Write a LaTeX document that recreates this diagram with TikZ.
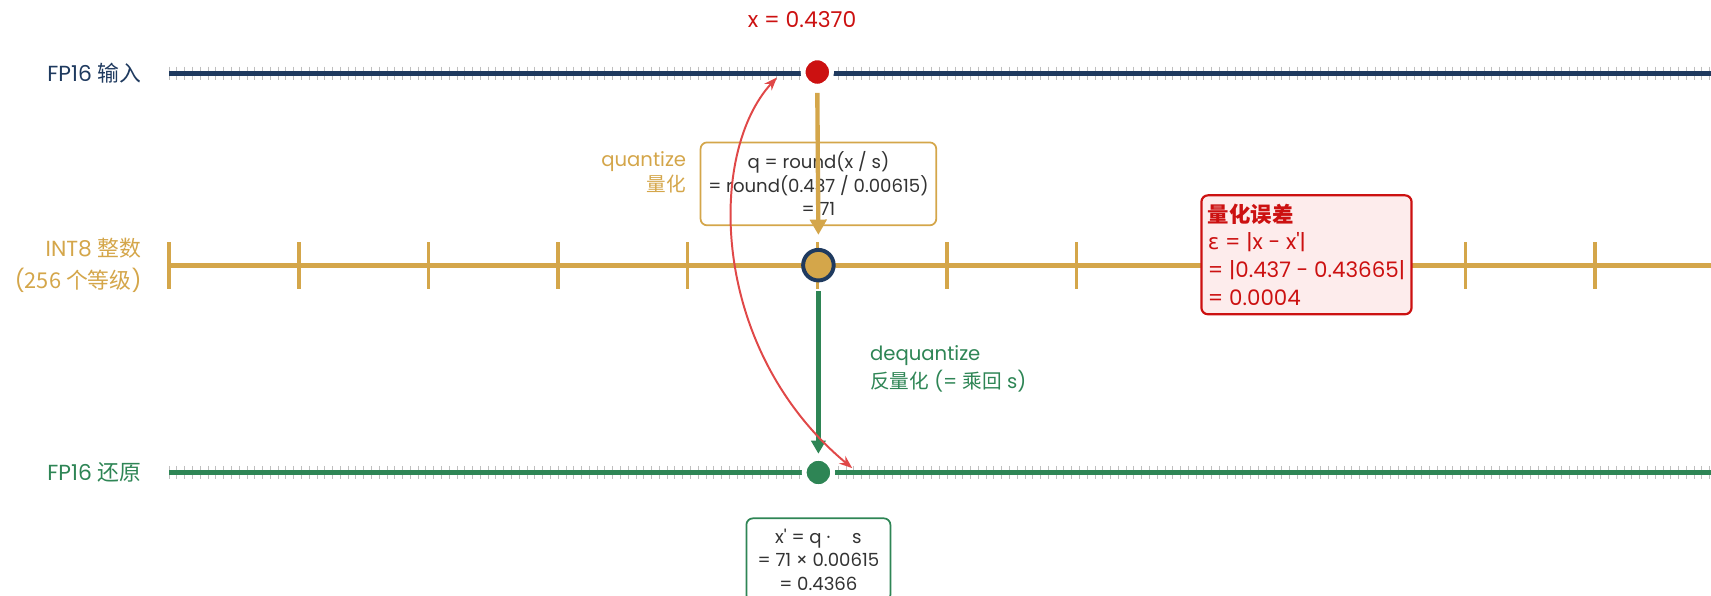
\documentclass[tikz,border=0pt]{standalone}
\usepackage{fontspec}
\setmainfont{Poppins}
\newfontfamily\cjk{Noto Sans CJK SC}
\newfontfamily\greek{DejaVu Sans}
\usetikzlibrary{positioning,arrows.meta}

\definecolor{navy}{HTML}{1F3A5F}
\definecolor{gold}{HTML}{D4A64A}
\definecolor{leaf}{HTML}{2E8555}
\definecolor{crimson}{HTML}{CC1111}
\definecolor{errred}{HTML}{E04848}
\definecolor{ink}{HTML}{333333}
\definecolor{errfill}{HTML}{FDECEC}

\tikzset{
    axislabel/.style={font=\fontsize{10}{14.5}\selectfont, inner sep=0pt, align=right, anchor=east},
    formbox/.style={draw, rounded corners=3pt, line width=0.8pt, fill=white, text=ink,
        font=\fontsize{8.3}{10.8}\selectfont, align=center, inner sep=0pt},
    finetick/.style={draw=black!25, line width=0.4pt},
    bigtick/.style={draw=gold, line width=1.6pt},
    valdot/.style={circle, inner sep=0pt, minimum size=13pt, draw=white, line width=2.2pt}
}

\begin{document}
\begin{tikzpicture}[x=0.5pt, y=-0.5pt]
    \useasboundingbox (0,0) rectangle (1568,546);
    \clip (0,0) rectangle (1568,546);

    % end points of the three axes
    \coordinate (inL) at (155,67);
    \coordinate (inR) at (1580,67);
    \coordinate (qL) at (155,243);
    \coordinate (qR) at (1580,243);
    \coordinate (outL) at (155,433);
    \coordinate (outR) at (1580,433);

    % fine FP16 ticks
    \foreach \i in {0,...,199} {
        \draw[finetick] (155+\i*7.13,61) -- (155+\i*7.13,73);
        \draw[finetick] (155+\i*7.13,427) -- (155+\i*7.13,439);
    }
    \draw[navy, line width=2.3pt] (inL) -- (inR);
    \draw[leaf, line width=2.3pt] (outL) -- (outR);

    % INT8 axis
    \foreach \k in {0,...,11} {
        \draw[bigtick] (155+\k*118.8,222) -- (155+\k*118.8,265);
    }
    \draw[gold, line width=2.2pt] (qL) -- (qR);

    % axis names
    \node[axislabel, text=navy] (nin) at (130,67) {FP16 {\cjk 输入}};
    \node[axislabel, text=gold] (nq) at (130,243) {INT8 {\cjk 整数}\\({\cjk 256 个等级})};
    \node[axislabel, text=leaf] (nout) at (130,433) {FP16 {\cjk 还原}};

    % the value on each axis
    \node[valdot, fill=crimson] (xin) at (749,66) {};
    \node[circle, inner sep=0pt, minimum size=14pt, draw=navy, line width=1.8pt, fill=gold] (xq) at (750,243) {};
    \node[valdot, fill=leaf] (xout) at (750,433) {};

    \node[text=crimson, font=\fontsize{10}{12}\selectfont, inner sep=0pt] (xval) at (735,18) {x = 0.4370};

    % formula boxes
    \node[formbox, draw=gold, minimum width=108pt, minimum height=38pt] (qbox) at (750,168.5)
        {q = round(x / s)\\= round(0.437 / 0.00615)\\= 71};
    \node[text=gold, font=\fontsize{9}{11.5}\selectfont, align=right, inner sep=0pt, left=6pt of qbox.west, yshift=5.5pt] (qname)
        {quantize\\{\cjk 量化}};

    \node[formbox, draw=leaf, minimum width=66pt, minimum height=38pt, font=\fontsize{8.3}{10.8}\selectfont] (dbox) at (750,513)
        {x\textquotesingle{} = q ·\hspace{1.2em}s\\= 71 × 0.00615\\= 0.4366};
    \node[text=leaf, font=\fontsize{9}{13}\selectfont, align=left, inner sep=0pt, anchor=west] (dname) at (797,338)
        {dequantize\\{\cjk 反量化} (= {\cjk 乘回} s)};

    \node[draw=crimson, line width=1pt, rounded corners=3pt, fill=errfill, text=crimson,
        font=\fontsize{9.8}{12.8}\selectfont, align=left, inner sep=3pt, anchor=north west,
        minimum height=54.5pt] (errbox) at (1100,178)
        {{\cjk\bfseries 量化误差}\\{\greek ε} = |x - x\textquotesingle|\\= |0.437 - 0.43665|\\= 0.0004};

    % quantize / dequantize arrows
    \draw[gold, line width=2pt, -{Triangle[length=7pt, width=7.5pt]}] ([yshift=-2pt]xin.south) -- ([yshift=6pt]xq.north);
    \draw[leaf, line width=2pt, -{Triangle[length=6pt, width=6.5pt]}] ([yshift=-4pt]xq.south) -- ([yshift=1pt]xout.north);

    % error between x and x'
    \coordinate (errtop) at (712,71);
    \coordinate (errbot) at (781,429);
    \draw[errred, line width=0.9pt, {Stealth[length=6pt]}-{Stealth[length=6pt]}]
        (errtop) .. controls (648,140) and (650,320) .. (errbot);
\end{tikzpicture}
\end{document}
